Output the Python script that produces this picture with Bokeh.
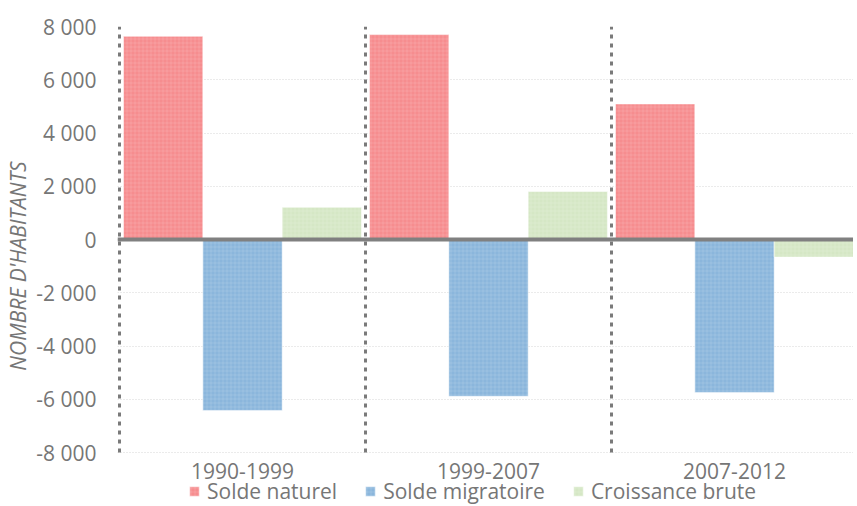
from bokeh.plotting import figure
from bokeh.models import (Range1d, FixedTicker, Span, Legend, LegendItem,
                          ColumnDataSource, Title)
from bokeh.core.properties import value
from bokeh.transform import dodge
from bokeh.embed import file_html
from bokeh.resources import INLINE

# ---- data ----
periods = ["1990-1999", "1999-2007", "2007-2012"]
series_names = ["Solde naturel", "Solde migratoire", "Croissance brute"]
solde_naturel = [7630, 7700, 5090]
solde_migratoire = [-6420, -5890, -5750]
croissance_brute = [1210, 1800, -660]
y_ticks = [-8000, -6000, -4000, -2000, 0, 2000, 4000, 6000, 8000]
y_tick_labels = ["-8 000", "-6 000", "-4 000", "-2 000", "0",
                 "2 000", "4 000", "6 000", "8 000"]
y_title = "NOMBRE D'HABITANTS"

# ---- styles ----
colors = ["#F68D8F", "#8BB6DC", "#D5E7C5"]
text_gray = "#767676"
line_gray = "#7a7a7a"
font = "Open Sans"
bar_w = 0.3225
offsets = [-bar_w, 0.0, bar_w]

# layout (pixels)
plot_h = 426            # height of the -8000..8000 span
extra_below = 53        # room under -8000 for category labels and legend
frame_h = plot_h + extra_below
frame_w = 736
group_px = 246
px_unit = (y_ticks[-1] - y_ticks[0]) / plot_h
y_min = y_ticks[0] - extra_below * px_unit
x_start = -0.5 - 2 / group_px
x_end = x_start + frame_w / group_px

idx = list(range(len(periods)))
src = ColumnDataSource(dict(idx=idx, naturel=solde_naturel,
                            migratoire=solde_migratoire,
                            croissance=croissance_brute))

p = figure(frame_width=frame_w, frame_height=frame_h,
           x_range=Range1d(x_start, x_end),
           y_range=Range1d(y_min, y_ticks[-1]),
           output_backend="svg", toolbar_location=None,
           min_border_left=113, min_border_top=26,
           min_border_right=0, min_border_bottom=0,
           outline_line_color=None)
p.background_fill_color = "white"
p.border_fill_color = "white"

renderers = []
for col, color, off in zip(["naturel", "migratoire", "croissance"], colors, offsets):
    r = p.vbar(x=dodge("idx", off, range=p.x_range), top=col, bottom=0,
               width=bar_w, source=src, fill_color=color,
               line_color="white", line_alpha=0.5, line_width=1,
               hatch_pattern="+", hatch_color="white", hatch_alpha=0.12,
               hatch_scale=4, hatch_weight=1)
    renderers.append(r)

# zero line
p.add_layout(Span(location=0, dimension="width", line_color="#808080",
                  line_width=4))
# dotted group separators (from -8000 to 8000)
bounds = [i - 0.5 for i in idx]
p.segment(x0=bounds, x1=bounds, y0=[y_ticks[0]] * len(bounds),
          y1=[y_ticks[-1]] * len(bounds), line_color=line_gray,
          line_width=3, line_dash="4 5")

# category labels under the -8000 line
p.text(x=idx, y=[y_ticks[0]] * len(idx), text=periods, y_offset=18,
       text_align="center", text_baseline="middle",
       text_font=value(font), text_font_size="21px", text_color=text_gray)

# axes
p.xaxis.visible = False

ya = p.yaxis[0]
ya.ticker = FixedTicker(ticks=y_ticks)
ya.major_label_overrides = {t: lab for t, lab in zip(y_ticks, y_tick_labels)}
ya.axis_line_color = None
ya.major_tick_line_color = None
ya.minor_tick_line_color = None
ya.major_tick_out = 0
ya.major_tick_in = 0
ya.major_label_standoff = 21
ya.major_label_text_font = font
ya.major_label_text_font_size = "21px"
ya.major_label_text_color = text_gray

p.add_layout(Title(text=y_title, align="center", offset=33, standoff=3,
                   text_font=font, text_font_style="italic",
                   text_font_size="21px", text_color=text_gray), "left")

p.xgrid.grid_line_color = None
p.ygrid.ticker = FixedTicker(ticks=y_ticks)
p.ygrid.grid_line_color = "#d6d6d6"
p.ygrid.grid_line_dash = "1 2"
p.ygrid.grid_line_width = 1

legend = Legend(items=[LegendItem(label=n, renderers=[r])
                       for n, r in zip(series_names, renderers)],
                orientation="horizontal", location=(71, 0),
                border_line_color=None, background_fill_alpha=0,
                glyph_width=12, glyph_height=12, label_standoff=7,
                spacing=27, padding=0, margin=0,
                label_text_font=font, label_text_font_size="21px",
                label_text_color=text_gray, label_height=20)
p.add_layout(legend, "center")

open("out.html", "w").write(file_html(p, INLINE))
